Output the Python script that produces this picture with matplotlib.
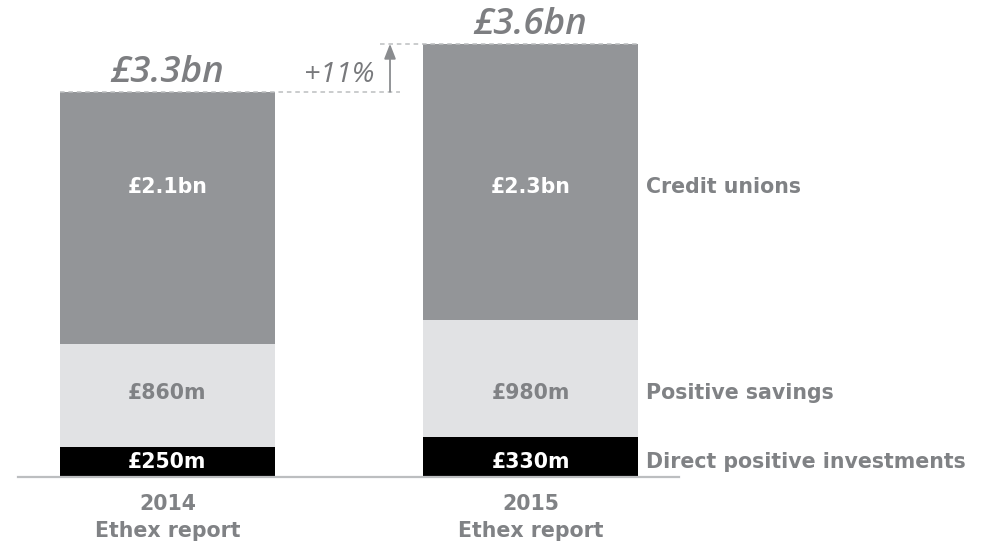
import matplotlib.pyplot as plt

# Ethex positive investment totals, in £m
years = ['2014', '2015']
report = 'Ethex report'
direct = [250, 330]
savings = [860, 980]
credit = [2100, 2300]
totals = ['£3.3bn', '£3.6bn']
growth = '+11%'
series_names = ['Credit unions', 'Positive savings', 'Direct positive investments']

dark = '#939598'
light = '#e1e2e4'
grey_text = '#808285'
line_grey = '#bcbec0'


def money(v):
    if v >= 1000:
        return '£' + str(round(v / 1000, 1)) + 'bn'
    return '£' + str(v) + 'm'


fig = plt.figure(figsize=(9.87, 5.42), dpi=100)
ax = fig.add_axes([0, 0, 1, 1])
ax.axis('off')
ax.set_xlim(-0.461, 2.257)
ax.set_ylim(-542, 3975)

x = [0, 1]
w = 0.592
bottoms2 = [d + s for d, s in zip(direct, savings)]
tops = [b + c for b, c in zip(bottoms2, credit)]

ax.bar(x, direct, width=w, color='black', zorder=2)
ax.bar(x, savings, width=w, bottom=direct, color=light, zorder=2)
ax.bar(x, credit, width=w, bottom=bottoms2, color=dark, zorder=2)

# baseline
ax.plot([-0.412, 1.409], [0, 0], color=line_grey, lw=1.6, zorder=3)

# segment labels sit on fixed rows shared with the series names
rows = [2420, 700, 125]
bold = dict(fontfamily='DejaVu Sans', fontweight='bold', fontsize=14.8,
            ha='center', va='center')
for i in range(2):
    ax.text(x[i], rows[0], money(credit[i]), color='white', **bold)
    ax.text(x[i], rows[1], money(savings[i]), color=grey_text, **bold)
    ax.text(x[i], rows[2], money(direct[i]), color='white', **bold)
    ax.text(x[i], -222, years[i], color=grey_text, **bold)
    ax.text(x[i], -448, report, color=grey_text, **bold)

for name, y in zip(series_names, rows):
    ax.text(1.318, y, name, color=grey_text, fontfamily='DejaVu Sans',
            fontweight='bold', fontsize=14.8, ha='left', va='center')

# totals above each bar
for i in range(2):
    ax.annotate(totals[i], (x[i], tops[i]), xytext=(0, 7), textcoords='offset points',
                ha='center', va='baseline', fontsize=26.5, fontstyle='italic',
                fontweight='semibold', fontfamily='Open Sans', color='#7d7e81')

# dashed guides and growth arrow
ax.plot([x[0] - w / 2, 0.640], [tops[0], tops[0]], ls=(0, (3, 2.5)), color=line_grey,
        lw=1.1, zorder=3)
ax.plot([0.585, x[1] + w / 2], [tops[1], tops[1]], ls=(0, (3, 2.5)), color=line_grey,
        lw=1.1, zorder=3)
ax.annotate('', xy=(0.613, tops[1]), xytext=(0.613, tops[0]),
            arrowprops=dict(arrowstyle='-|>,head_length=0.9,head_width=0.35',
                            color='#8a8c8f', lw=1.3, shrinkA=0, shrinkB=0))
ax.text(0.571, (tops[0] + tops[1]) / 2 - 60, growth, ha='right', va='center',
        fontsize=20.5, fontstyle='italic', fontfamily='Open Sans', color='#78797c')

fig.savefig('out.png', dpi=100)
